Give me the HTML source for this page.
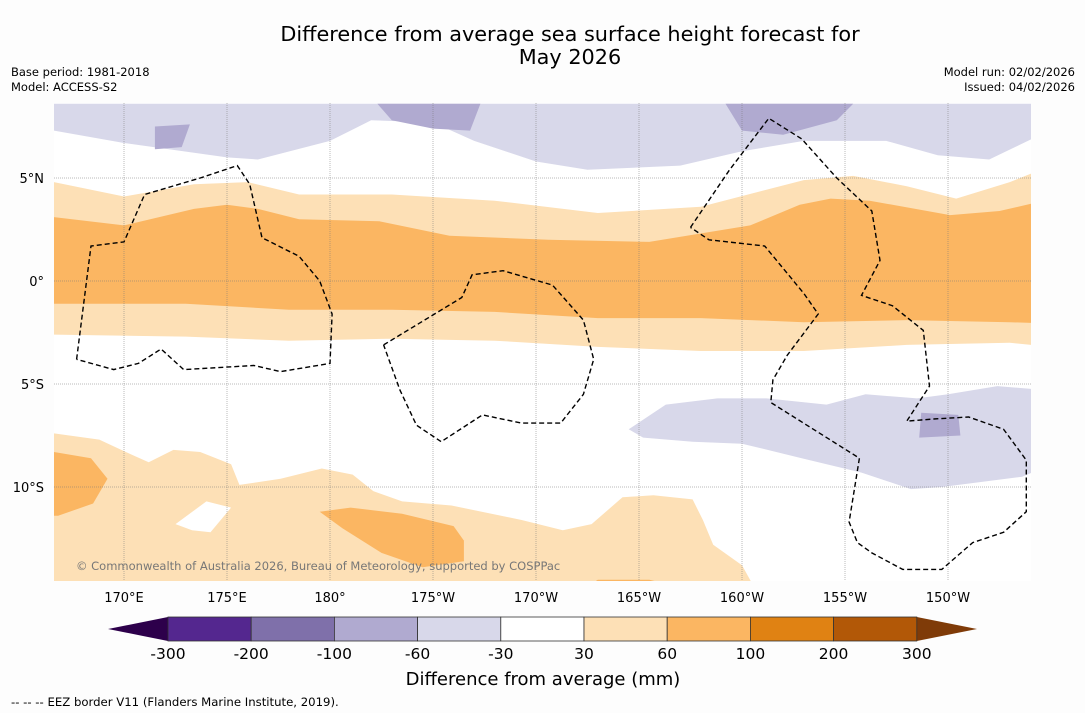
<!DOCTYPE html>
<html><head><meta charset="utf-8"><style>
body{margin:0;background:#fff;font-family:"DejaVu Sans","Liberation Sans",sans-serif;}
svg text{font-family:"DejaVu Sans","Liberation Sans",sans-serif;}
</style></head><body>
<svg id="s" width="1085" height="713" viewBox="0 0 1085 713" xmlns="http://www.w3.org/2000/svg">
<rect width="1085" height="713" fill="#fdfdfd"/>
<text x="570" y="41" font-size="20.8" text-anchor="middle">Difference from average sea surface height forecast for</text>
<text x="570" y="64" font-size="20.8" text-anchor="middle">May 2026</text>
<text x="11" y="76" font-size="11.5">Base period: 1981-2018</text>
<text x="11" y="91" font-size="11.5">Model: ACCESS-S2</text>
<text x="1075" y="76" font-size="11.5" text-anchor="end">Model run: 02/02/2026</text>
<text x="1075" y="91" font-size="11.5" text-anchor="end">Issued: 04/02/2026</text>
<defs><clipPath id="mc"><rect x="54" y="103" width="977" height="478"/></clipPath></defs>
<g id="map" clip-path="url(#mc)"><rect x="54" y="103" width="977" height="478" fill="#fff"/></g>
<g id="axes"></g>
<g id="cbar"></g>
<text x="543" y="685" font-size="18" text-anchor="middle">Difference from average (mm)</text>
<text x="11" y="706" font-size="11.7">--  --  -- EEZ border V11 (Flanders Marine Institute, 2019).</text>
</svg>
<script>
// geographic extent & axis functions
const lonTicks=[170,175,180,185,190,195,200,205,210];
const lonLabels=["170°E","175°E","180°","175°W","170°W","165°W","160°W","155°W","150°W"];
const latTicks=[5,0,-5,-10];
const latLabels=["5°N","0°","5°S","10°S"];
const levels=["-300","-200","-100","-60","-30","30","60","100","200","300"];
const levelColors=["#54278f","#7f70aa","#b0aad0","#d8d8ea","#ffffff","#fde0b6","#fbb662","#e08213","#b25807"];
const extColors=["#2d004b","#7f3b08"];
function X(lon){return 124+(lon-170)*20.6;}
function Y(lat){return 281-lat*20.6;}
// contour bands given in (lon, lat) pairs
const bandPurpleTop=[[166.6,8.6],[166.6,7.3],[170,6.7],[175,6],[176.5,5.9],[180,6.8],[182,7.8],[185,7.7],[187,6.8],[190,5.8],[192.5,5.4],[197,5.6],[200,6.3],[203,6.8],[207,6.8],[209.5,6.1],[212,5.9],[214.5,7.1],[216,7.5],[216,8.6]];
const blobPurple1=[[171.5,7.5],[173.2,7.6],[172.8,6.5],[171.5,6.4]];
const blobPurple2=[[182.3,8.6],[187.3,8.6],[186.8,7.3],[185,7.4],[183,7.8]];
const blobPurple3=[[199.2,8.6],[205.4,8.6],[204.6,7.8],[202,7.1],[200,7.3]];
const bandLightOrange=[[166.6,4.8],[170,4.1],[173.4,4.7],[176,4.8],[178.5,4.2],[183,4.2],[188,3.9],[193,3.3],[198,3.6],[203,4.9],[205.4,5.1],[208,4.6],[210.4,4],[213,4.8],[214.5,5.4],[216,5.5],[216,-3.3],[213,-3.0],[208,-3.1],[203,-3.4],[198,-3.4],[193,-3.2],[188,-2.9],[183,-2.8],[178,-2.9],[173,-2.7],[166.6,-2.6]];
const bandOrange=[[166.6,3.1],[170,2.7],[173.4,3.5],[175,3.7],[176.5,3.5],[178.5,3.0],[182.4,2.9],[185.8,2.2],[190.6,2.0],[195.5,1.9],[200.4,2.7],[202.8,3.7],[204.3,4.0],[206.2,3.9],[210.1,3.2],[212.5,3.4],[216,4.2],[216,-2.1],[213,-2.0],[208,-1.9],[203,-2.0],[198,-1.8],[193,-1.8],[188,-1.5],[183,-1.4],[178,-1.4],[173,-1.1],[166.6,-1.1]];
const bandPurpleLow=[[195.4,-6.6],[196.3,-6.0],[198.8,-5.7],[201.2,-5.7],[204.1,-6.0],[206,-5.5],[208.5,-5.7],[210,-5.5],[212.4,-5.1],[216,-5.4],[216,-8.5],[213.6,-9.5],[209.7,-10],[208.2,-10.1],[205.8,-9.3],[202.9,-8.6],[200,-7.9],[197.6,-7.8],[195.2,-7.6],[194.5,-7.2]];
const blobPurple4=[[208.7,-6.4],[210.5,-6.5],[210.6,-7.5],[208.6,-7.6]];
const bandOrangeSW=[[166.6,-7.4],[168.8,-7.7],[170.3,-8.4],[171.2,-8.8],[172.4,-8.2],[173.7,-8.3],[175.2,-8.9],[175.6,-9.9],[177.6,-9.6],[179.6,-9.1],[181.1,-9.4],[182.1,-10.2],[183.5,-10.7],[185.9,-10.9],[189.3,-11.6],[191.3,-12.1],[192.7,-11.8],[194.2,-10.5],[195.7,-10.4],[197.6,-10.6],[198.1,-11.6],[198.6,-12.8],[200,-13.8],[200.5,-14.7],[166.6,-14.7]];
const holeSW=[[172.5,-11.8],[174,-10.7],[175.2,-11],[174.2,-12.2],[173.3,-12.1]];
const blobOrange1=[[166.6,-8.3],[168.4,-8.6],[169.2,-9.6],[168.5,-10.8],[166.8,-11.4],[166.6,-11.4]];
const blobOrange2=[[179.5,-11.2],[181,-11],[183.5,-11.3],[186,-11.9],[186.5,-12.6],[186.5,-13.6],[184.5,-13.9],[182.5,-13.2],[180.6,-12]];
const blobOrange3=[[193,-14.5],[195.5,-14.5],[196.3,-14.7],[192.7,-14.7]];
const eez1=[[167.7,-3.8],[168.4,1.7],[170,1.9],[171,4.2],[173.7,5],[175.5,5.6],[176.1,4.7],[176.7,2.1],[178.5,1.2],[179.5,0],[180.1,-1.6],[180,-4],[177.6,-4.4],[176.3,-4.1],[172.9,-4.3],[171.8,-3.3],[170.7,-4],[169.5,-4.3],[167.7,-3.8]];
const eez2=[[182.6,-3.1],[186.4,-0.8],[186.9,0.3],[188.4,0.5],[190.8,-0.2],[192.3,-1.9],[192.8,-3.8],[192.3,-5.5],[191.2,-6.9],[189.3,-6.9],[187.4,-6.5],[185.4,-7.8],[184.2,-7],[183.4,-5.3],[182.6,-3.1]];
const eez3=[[197.5,2.6],[199.4,5.4],[201.3,7.9],[202.9,6.9],[204.6,5],[206.3,3.4],[206.7,1],[205.8,-0.7],[207.3,-1.2],[208.8,-2.4],[209.1,-5.1],[208,-6.8],[209.3,-6.7],[211,-6.6],[212.7,-7.2],[213.8,-8.7],[213.8,-11.2],[212.7,-12.2],[211.2,-12.7],[209.7,-14],[207.8,-14],[206.3,-13.2],[205.6,-12.7],[205.2,-11.7],[205.7,-8.6],[201.4,-5.9],[201.5,-4.8],[202.2,-3.6],[203.7,-1.6],[203,-0.6],[201.1,1.7],[198.4,2],[197.5,2.6]];

const NS="http://www.w3.org/2000/svg";
const map=document.getElementById('map'),axes=document.getElementById('axes'),cbar=document.getElementById('cbar');
function pts(a){return a.map(p=>X(p[0]).toFixed(1)+','+Y(p[1]).toFixed(1)).join(' ');}
function poly(parent,a,fill,name,extra){const e=document.createElementNS(NS,'polygon');e.setAttribute('points',pts(a));e.setAttribute('fill',fill);


if(extra)for(const k in extra)e.setAttribute(k,extra[k]);parent.appendChild(e);return e;}
poly(map,bandPurpleTop,levelColors[3],'band-minus60-north');
poly(map,blobPurple1,levelColors[2],'patch-minus100-a');
poly(map,blobPurple2,levelColors[2],'patch-minus100-b');
poly(map,blobPurple3,levelColors[2],'patch-minus100-c');
poly(map,bandLightOrange,levelColors[5],'band-plus30');
poly(map,bandOrange,levelColors[6],'band-plus60');
poly(map,bandPurpleLow,levelColors[3],'band-minus60-south');
poly(map,blobPurple4,levelColors[2],'patch-minus100-d');
poly(map,bandOrangeSW,levelColors[5],'band-plus30-southwest');
poly(map,holeSW,'#ffffff','gap-southwest');
poly(map,blobOrange1,levelColors[6],'patch-plus60-a');
poly(map,blobOrange2,levelColors[6],'patch-plus60-b');
poly(map,blobOrange3,levelColors[6],'patch-plus60-c');
// gridlines
lonTicks.forEach((l,i)=>{const ln=document.createElementNS(NS,'line');ln.setAttribute('x1',X(l));ln.setAttribute('x2',X(l));ln.setAttribute('y1',103);ln.setAttribute('y2',581);ln.setAttribute('stroke','#777');ln.setAttribute('stroke-width','0.5');ln.setAttribute('stroke-dasharray','1,1');


map.appendChild(ln);
const t=document.createElementNS(NS,'text');t.setAttribute('x',X(l));t.setAttribute('y',602);t.setAttribute('font-size','13');t.setAttribute('text-anchor','middle');t.textContent=lonLabels[i];


axes.appendChild(t);});
latTicks.forEach((l,i)=>{const ln=document.createElementNS(NS,'line');ln.setAttribute('x1',54);ln.setAttribute('x2',1031);ln.setAttribute('y1',Y(l));ln.setAttribute('y2',Y(l));ln.setAttribute('stroke','#777');ln.setAttribute('stroke-width','0.5');ln.setAttribute('stroke-dasharray','1,1');


map.appendChild(ln);
const t=document.createElementNS(NS,'text');t.setAttribute('x',44);t.setAttribute('y',Y(l)+5);t.setAttribute('font-size','13');t.setAttribute('text-anchor','end');t.textContent=latLabels[i];


axes.appendChild(t);});
[eez1,eez2,eez3].forEach(a=>{const e=document.createElementNS(NS,'polyline');e.setAttribute('points',pts(a));e.setAttribute('fill','none');e.setAttribute('stroke','#000');e.setAttribute('stroke-width','1.4');e.setAttribute('stroke-dasharray','5,3');


map.appendChild(e);});
const cp=document.createElementNS(NS,'text');cp.setAttribute('x',76);cp.setAttribute('y',570);cp.setAttribute('font-size','11.5');cp.setAttribute('fill','#777');cp.textContent='© Commonwealth of Australia 2026, Bureau of Meteorology, supported by COSPPac';


map.appendChild(cp);
// colorbar
const cx0=168,cw=83.2,cy=617,ch=24;
const l=document.createElementNS(NS,'polygon');l.setAttribute('points',`108,629 ${cx0},${cy} ${cx0},${cy+ch}`);l.setAttribute('fill',extColors[0]);


cbar.appendChild(l);
const xe=cx0+cw*levelColors.length;
const r=document.createElementNS(NS,'polygon');r.setAttribute('points',`${xe},${cy} 977,629 ${xe},${cy+ch}`);r.setAttribute('fill',extColors[1]);


cbar.appendChild(r);
levelColors.forEach((c,i)=>{const b=document.createElementNS(NS,'rect');b.setAttribute('x',cx0+i*cw);b.setAttribute('y',cy);b.setAttribute('width',cw);b.setAttribute('height',ch);b.setAttribute('fill',c);b.setAttribute('stroke','#333');b.setAttribute('stroke-width','0.8');


cbar.appendChild(b);});
levels.forEach((v,i)=>{const t=document.createElementNS(NS,'text');t.setAttribute('x',cx0+i*cw);t.setAttribute('y',659);t.setAttribute('font-size','15.5');t.setAttribute('text-anchor','middle');t.textContent=v;


cbar.appendChild(t);});
</script>
</body></html>
